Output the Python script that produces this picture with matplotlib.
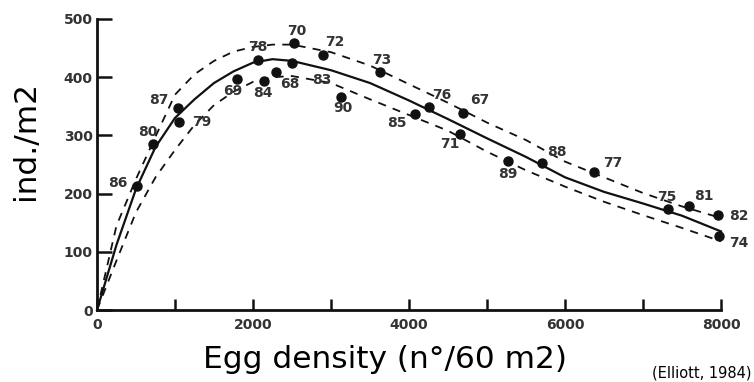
import matplotlib
matplotlib.use("Agg")
import matplotlib.pyplot as plt

# points observés (densité d'oeufs, ind./m2) et année
years = ['86', '80', '87', '79', '69', '84', '78', '68', '70', '83', '72', '90',
         '73', '85', '76', '67', '71', '89', '88', '77', '75', '81', '82', '74']
egg_x = [513, 718, 1038, 1051, 1795, 2141, 2064, 2295, 2526, 2500, 2897, 3128,
         3628, 4077, 4256, 4692, 4654, 5269, 5705, 6372, 7321, 7590, 7962, 7974]
ind_y = [213, 285, 347, 323, 397, 393, 430, 409, 459, 424, 438, 366,
         409, 337, 349, 338, 302, 256, 253, 237, 174, 179, 163, 127]

# courbe ajustée et limites
curve_x = [0, 250, 500, 750, 1000, 1250, 1500, 1750, 2000, 2250, 2500, 3000,
           3500, 4000, 4500, 5000, 5500, 6000, 6500, 7000, 7500, 8000]
curve_y = [0, 112, 208, 280, 330, 362, 390, 410, 425, 431, 428, 412,
           390, 360, 328, 295, 263, 228, 203, 183, 162, 135]
upper_y = [0, 145, 225, 298, 370, 405, 428, 444, 452, 456, 456, 443,
           420, 388, 356, 322, 292, 255, 228, 201, 178, 158]
lower_y = [0, 85, 168, 228, 275, 318, 352, 375, 392, 400, 402, 390,
           362, 335, 308, 272, 240, 212, 186, 163, 141, 118]

x_ticks = [0, 1000, 2000, 3000, 4000, 5000, 6000, 7000, 8000]
x_ticklabels = ['0', '', '2000', '', '4000', '', '6000', '', '8000']
y_ticks = [0, 100, 200, 300, 400, 500]

# décalage des étiquettes (pixels)
label_offsets = {'86': (-19, 3), '80': (-5, 12), '87': (-19, 8), '79': (23, 0),
                 '69': (-4, -12), '84': (-1, -12), '78': (0, 13), '68': (14, -12),
                 '70': (3, 12), '83': (30, -17), '72': (12, 13), '90': (2, -11),
                 '73': (2, 12), '85': (-18, -9), '76': (13, 12), '67': (17, 13),
                 '71': (-10, -10), '89': (0, -13), '88': (15, 11), '77': (19, 9),
                 '75': (-1, 12), '81': (15, 10), '82': (21, -1), '74': (20, -7)}

ink = '#111111'
fig = plt.figure(figsize=(7.54, 3.82), dpi=100)
ax = fig.add_axes([97/754, 72/382, 624/754, 291/382])

ax.plot(curve_x, curve_y, color=ink, lw=1.6, clip_on=False)
ax.plot(curve_x, upper_y, color=ink, lw=1.3, dashes=(4.5, 4), clip_on=False)
ax.plot(curve_x, lower_y, color=ink, lw=1.3, dashes=(4.5, 4), clip_on=False)
ax.plot(egg_x, ind_y, 'o', color=ink, ms=6.5, clip_on=False, zorder=5)

for yr, xv, yv in zip(years, egg_x, ind_y):
    ax.annotate(yr, (xv, yv), xytext=label_offsets[yr], textcoords='offset pixels',
                ha='center', va='center', fontsize=10, fontweight='bold', color='#333333')

ax.set_xlim(0, 8000)
ax.set_ylim(0, 500)
for s in ['top', 'right']:
    ax.spines[s].set_visible(False)
for s in ['left', 'bottom']:
    ax.spines[s].set_linewidth(2)
    ax.spines[s].set_color(ink)
ax.set_xticks(x_ticks)
ax.set_xticklabels(x_ticklabels)
ax.set_yticks(y_ticks)
ax.tick_params(axis='x', direction='in', length=8, width=1.8, pad=6, color=ink)
ax.tick_params(axis='y', direction='in', length=11, width=1.8, pad=3, color=ink)
for lab in ax.get_xticklabels() + ax.get_yticklabels():
    lab.set_fontsize(10)
    lab.set_fontweight('bold')
    lab.set_color('#333333')

fig.text(385/754, 1 - 360/382, 'Egg density (n°/60 m2)', ha='center', va='center',
         fontsize=22.5, color='black')
fig.text(25/754, 1 - 140/382, 'ind./m2', ha='center', va='center', rotation=90,
         fontsize=22.5, color='black')
fig.text(752/754, 1 - 378/382, '(Elliott, 1984)', ha='right', va='baseline',
         fontsize=10.5, color='black')

fig.savefig('out.png', dpi=100, facecolor='white')
